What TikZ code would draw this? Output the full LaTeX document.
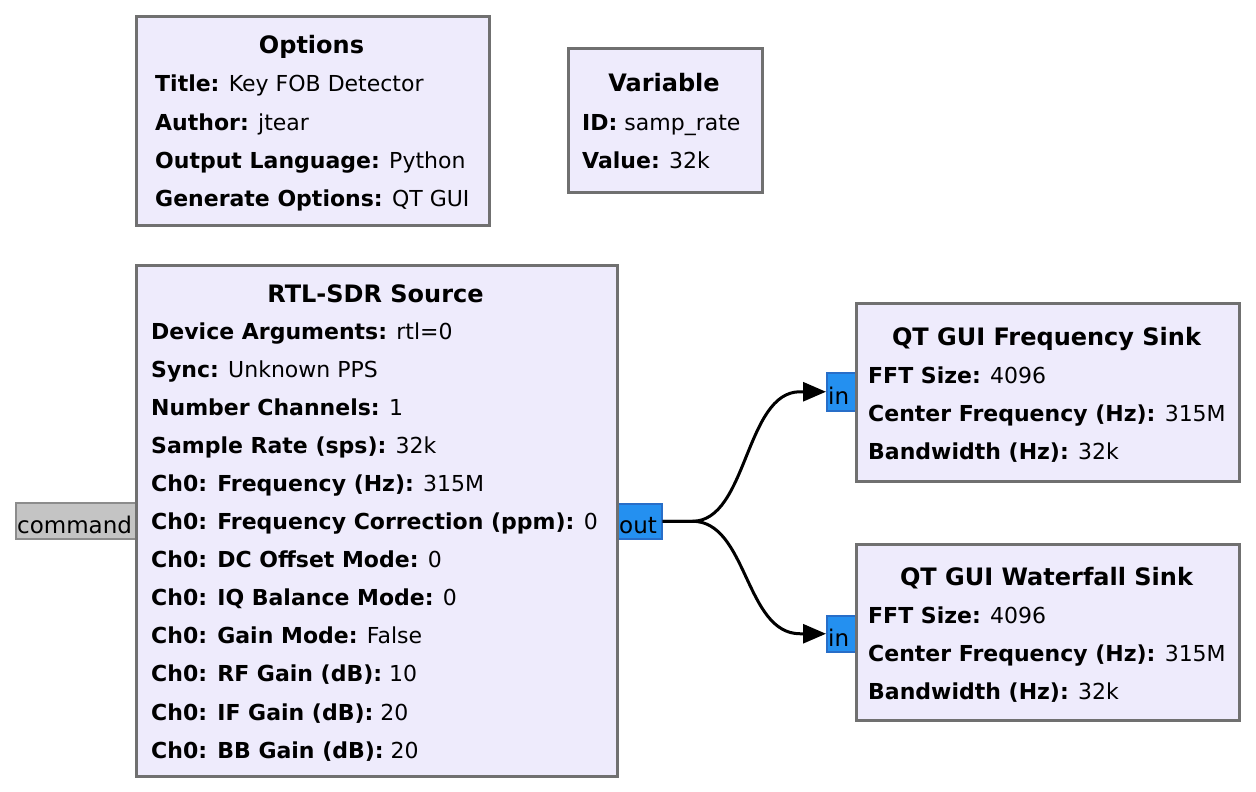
\documentclass[tikz,border=0pt]{standalone}
\usepackage{fontspec}
\setmainfont{DejaVu Sans}
\usetikzlibrary{arrows.meta}
\definecolor{blkfill}{RGB}{238,235,252}
\definecolor{blkline}{RGB}{112,112,112}
\definecolor{portblue}{RGB}{36,144,240}
\definecolor{portblueline}{RGB}{40,110,200}
\definecolor{portgray}{RGB}{196,196,196}
\definecolor{portgrayline}{RGB}{140,140,140}
\newcommand{\pl}[2]{\textbf{#1} #2}
\begin{document}
\begin{tikzpicture}[x=1pt,y=-1pt,
  blk/.style={draw=blkline, fill=blkfill, line width=3pt, anchor=north west, inner sep=0pt},
  ttl/.style={anchor=base, font=\fontsize{24}{27}\selectfont\bfseries, inner sep=0pt},
  prm/.style={anchor=base west, font=\fontsize{22}{25}\selectfont, inner sep=0pt},
  bport/.style={draw=portblueline, fill=portblue, line width=1.5pt, anchor=north west, inner sep=0pt},
  gport/.style={draw=portgrayline, fill=portgray, line width=1.5pt, anchor=north west, inner sep=0pt},
  ptxt/.style={anchor=base west, font=\fontsize{23}{26}\selectfont, inner sep=0pt},
  wire/.style={line width=3pt, -{Triangle[length=23pt,width=19pt]}}]
\useasboundingbox (0,0) rectangle (1256,792);
\fill[white] (0,0) rectangle (1256,792);

% ports
\node[gport, minimum width=120pt, minimum height=36pt] (cmd) at (15,502) {};
\node[ptxt] (cmdt) at (17,533) {command};
\node[bport, minimum width=44pt, minimum height=35pt] (out) at (617,503) {};
\node[ptxt] (outt) at (619,533) {out};
\node[bport, minimum width=29pt, minimum height=38pt] (in1) at (826,372) {};
\node[ptxt] (in1t) at (828,404) {in};
\node[bport, minimum width=29pt, minimum height=36pt] (in2) at (826,615) {};
\node[ptxt] (in2t) at (828,646) {in};

% Options
\node[blk, minimum width=353pt, minimum height=209pt] (opt) at (135,15) {};
\node[ttl] (optt) at (311.5,54) {Options};
\node[prm] (o1) at (155,92) {\pl{Title:}{Key FOB Detector}};
\node[prm] (o2) at (155,130) {\pl{Author:}{jtear}};
\node[prm] (o3) at (155,168) {\pl{Output Language:}{Python}};
\node[prm] (o4) at (155,206) {\pl{Generate Options:}{QT GUI}};

% Variable
\node[blk, minimum width=194pt, minimum height=144pt] (var) at (567,47) {};
\node[ttl] (vart) at (664,92) {Variable};
\node[prm] (v1) at (582,130) {\pl{ID:}{samp\_rate}};
\node[prm] (v2) at (582,168) {\pl{Value:}{32k}};

% RTL-SDR Source
\node[blk, minimum width=481pt, minimum height=511pt] (rtl) at (135,264) {};
\node[ttl] (rtlt) at (375.5,302) {RTL-SDR Source};
\node[prm] (r1) at (151,339) {\pl{Device Arguments:}{rtl=0}};
\node[prm] (r2) at (151,377.1) {\pl{Sync:}{Unknown PPS}};
\node[prm] (r3) at (151,415.2) {\pl{Number Channels:}{1}};
\node[prm] (r4) at (151,453.3) {\pl{Sample Rate (sps):}{32k}};
\node[prm] (r5) at (151,491.4) {\pl{Ch0: Frequency (Hz):}{315M}};
\node[prm] (r6) at (151,529.5) {\pl{Ch0: Frequency Correction (ppm):}{0}};
\node[prm] (r7) at (151,567.6) {\pl{Ch0: DC Offset Mode:}{0}};
\node[prm] (r8) at (151,605.7) {\pl{Ch0: IQ Balance Mode:}{0}};
\node[prm] (r9) at (151,643.8) {\pl{Ch0: Gain Mode:}{False}};
\node[prm] (r10) at (151,681.9) {\pl{Ch0: RF Gain (dB):}{10}};
\node[prm] (r11) at (151,720) {\pl{Ch0: IF Gain (dB):}{20}};
\node[prm] (r12) at (151,758) {\pl{Ch0: BB Gain (dB):}{20}};

% QT GUI Frequency Sink
\node[blk, minimum width=383pt, minimum height=178pt] (fs) at (855,302) {};
\node[ttl] (fst) at (1046.5,345) {QT GUI Frequency Sink};
\node[prm] (f1) at (868,383) {\pl{FFT Size:}{4096}};
\node[prm] (f2) at (868,421) {\pl{Center Frequency (Hz):}{315M}};
\node[prm] (f3) at (868,459) {\pl{Bandwidth (Hz):}{32k}};

% QT GUI Waterfall Sink
\node[blk, minimum width=383pt, minimum height=176pt] (ws) at (855,543) {};
\node[ttl] (wst) at (1046.5,585) {QT GUI Waterfall Sink};
\node[prm] (w1) at (868,623) {\pl{FFT Size:}{4096}};
\node[prm] (w2) at (868,661) {\pl{Center Frequency (Hz):}{315M}};
\node[prm] (w3) at (868,699) {\pl{Bandwidth (Hz):}{32k}};

% connections
\draw[wire] (out.east) -- ++(30,0) .. controls +(55,0) and +(-55,0) .. ([xshift=-26pt]in1.west) -- (in1.west);
\draw[wire] (out.east) -- ++(30,0) .. controls +(55,0) and +(-55,0) .. ([xshift=-26pt]in2.west) -- (in2.west);
\end{tikzpicture}
\end{document}
